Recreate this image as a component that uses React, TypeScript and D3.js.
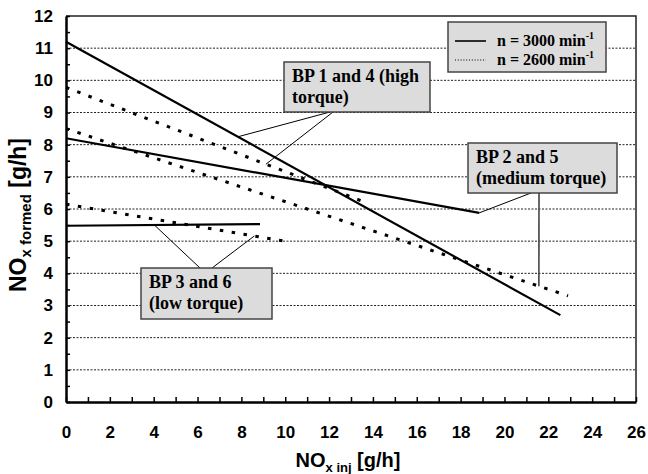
import React, { useRef, useEffect } from "react";
import * as d3 from "d3";

// axis ticks
const xTickValues = [0, 2, 4, 6, 8, 10, 12, 14, 16, 18, 20, 22, 24, 26];
const yTickValues = [0, 1, 2, 3, 4, 5, 6, 7, 8, 9, 10, 11, 12];

// linear trend lines, [NOx inj, NOx formed] at both ends
const highTorque3000 = [[0, 11.2], [22.55, 2.7]];
const highTorque2600 = [[0, 9.78], [13.6, 6.22]];
const mediumTorque3000 = [[0, 8.2], [18.85, 5.88]];
const mediumTorque2600 = [[0, 8.5], [22.9, 3.3]];
const lowTorque3000 = [[0, 5.48], [8.85, 5.53]];
const lowTorque2600 = [[0, 6.15], [10.25, 4.97]];

// where the leader lines touch the trend lines (NOx inj)
const leaderHigh = [7.84, 9.12];
const leaderMedium = [18.85, 21.57];
const leaderLow = [4.03, 8.59];

const SANS = "'Liberation Sans', Arial, sans-serif";
const SERIF = "'Liberation Serif', 'Times New Roman', serif";

export default function App() {
  const chartRef = useRef<SVGSVGElement>(null);

  useEffect(() => {
    const width = 648;
    const height = 474;
    const margin = { top: 16, right: 12, bottom: 72, left: 66 };

    const svg = d3.select(chartRef.current);
    svg.selectAll("*").remove();
    svg.attr("width", width).attr("height", height);

    svg.append("rect").attr("width", width).attr("height", height).attr("fill", "#fff");

    const x = d3.scaleLinear().domain([0, 26]).range([margin.left, width - margin.right]);
    const y = d3.scaleLinear().domain([0, 12]).range([height - margin.bottom, margin.top]);

    // dotted horizontal gridlines
    svg.append("g")
      .selectAll("line")
      .data(yTickValues.filter(d => d > 0 && d < 12))
      .join("line")
      .attr("x1", x(0))
      .attr("x2", x(26))
      .attr("y1", d => y(d))
      .attr("y2", d => y(d))
      .attr("stroke", "#222")
      .attr("stroke-width", 1)
      .attr("stroke-dasharray", "2,1.5");

    // top / right frame
    svg.append("path")
      .attr("d", `M${x(0)},${y(12)}H${x(26)}V${y(0)}`)
      .attr("fill", "none")
      .attr("stroke", "#222")
      .attr("stroke-width", 1.5);

    const series = [
      { pts: highTorque3000, dotted: false },
      { pts: highTorque2600, dotted: true },
      { pts: mediumTorque3000, dotted: false },
      { pts: mediumTorque2600, dotted: true },
      { pts: lowTorque3000, dotted: false },
      { pts: lowTorque2600, dotted: true },
    ];

    const line = d3.line<number[]>().x(d => x(d[0])).y(d => y(d[1]));

    svg.append("g")
      .selectAll("path")
      .data(series)
      .join("path")
      .attr("d", d => line(d.pts))
      .attr("fill", "none")
      .attr("stroke", "#000")
      .attr("stroke-width", d => (d.dotted ? 3 : 2.2))
      .attr("stroke-dasharray", d => (d.dotted ? "3.5,8.5" : null));

    const onLine = (pts: number[][], xv: number) => {
      const [a, b] = pts;
      return a[1] + ((b[1] - a[1]) * (xv - a[0])) / (b[0] - a[0]);
    };

    // leader lines
    const leaders = [
      { from: [330, 112], pts: highTorque3000, at: leaderHigh[0], color: "#000", w: 1 },
      { from: [333, 112], pts: highTorque2600, at: leaderHigh[1], color: "#000", w: 1 },
      { from: [531, 193], pts: mediumTorque3000, at: leaderMedium[0], color: "#000", w: 1 },
      { from: [539, 193], pts: mediumTorque2600, at: leaderMedium[1], color: "#444", w: 1.6 },
      { from: [200, 268], pts: lowTorque3000, at: leaderLow[0], color: "#000", w: 1 },
      { from: [212, 268], pts: lowTorque2600, at: leaderLow[1], color: "#000", w: 1 },
    ];
    svg.append("g")
      .selectAll("line")
      .data(leaders)
      .join("line")
      .attr("x1", d => d.from[0])
      .attr("y1", d => d.from[1])
      .attr("x2", d => x(d.at))
      .attr("y2", d => y(onLine(d.pts, d.at)))
      .attr("stroke", d => d.color)
      .attr("stroke-width", d => d.w);

    // label boxes
    const boxes = [
      { x: 284, y: 62, w: 146, h: 50, lines: ["BP 1 and 4 (high", "torque)"] },
      { x: 468, y: 143, w: 149, h: 50, lines: ["BP 2 and 5", "(medium torque)"] },
      { x: 141, y: 268, w: 131, h: 51, lines: ["BP 3 and 6", "(low torque)"] },
    ];
    const bg = svg.append("g").selectAll("g").data(boxes).join("g");
    bg.append("rect")
      .attr("x", d => d.x)
      .attr("y", d => d.y)
      .attr("width", d => d.w)
      .attr("height", d => d.h)
      .attr("fill", "#dcdcdc")
      .attr("stroke", "#444")
      .attr("stroke-width", 1.5);
    bg.each(function (d) {
      const g = d3.select(this);
      d.lines.forEach((t, i) => {
        g.append("text")
          .attr("x", d.x + 8)
          .attr("y", d.y + 20 + i * 21)
          .attr("font-family", SERIF)
          .attr("font-weight", "bold")
          .attr("font-size", 18)
          .text(t);
      });
    });

    // legend
    const lg = svg.append("g");
    lg.append("rect")
      .attr("x", 448).attr("y", 22).attr("width", 158).attr("height", 50)
      .attr("fill", "#dcdcdc").attr("stroke", "#444").attr("stroke-width", 1.5);
    const legendRows = [
      { label: "n = 3000 min", dotted: false },
      { label: "n = 2600 min", dotted: true },
    ];
    legendRows.forEach((r, i) => {
      const cy = 41 + i * 19;
      lg.append("line")
        .attr("x1", 455).attr("x2", 486).attr("y1", cy).attr("y2", cy)
        .attr("stroke", "#000")
        .attr("stroke-width", r.dotted ? 1.2 : 1.6)
        .attr("stroke-dasharray", r.dotted ? "1,1.8" : null);
      const t = lg.append("text")
        .attr("x", 497).attr("y", cy + 5)
        .attr("font-family", SERIF).attr("font-weight", "bold").attr("font-size", 16);
      t.append("tspan").text(r.label);
      t.append("tspan").attr("font-size", 10).attr("dy", -7).text("-1");
    });

    // axes
    const xAxis = svg.append("g")
      .attr("transform", `translate(0,${y(0)})`)
      .call(
        d3.axisBottom(x)
          .tickValues(d3.range(0, 27, 1))
          .tickSizeInner(-5)
          .tickSizeOuter(0)
          .tickPadding(24)
          .tickFormat(d => (xTickValues.includes(d as number) ? String(d) : ""))
      );
    const yAxis = svg.append("g")
      .attr("transform", `translate(${x(0)},0)`)
      .call(
        d3.axisLeft(y)
          .tickValues(d3.range(0, 12.01, 0.5))
          .tickSizeInner(-4)
          .tickSizeOuter(0)
          .tickPadding(13)
          .tickFormat(d => (yTickValues.includes(d as number) ? String(d) : ""))
      );
    [xAxis, yAxis].forEach(a => {
      a.select(".domain").attr("stroke", "#000").attr("stroke-width", 2.5);
      a.selectAll(".tick line").attr("stroke", "#000").attr("stroke-width", 1.5);
      a.selectAll("text")
        .attr("fill", "#000")
        .style("font-family", SANS)
        .style("font-weight", "bold")
        .style("font-size", "17px");
    });

    // axis titles
    const xt = svg.append("text")
      .attr("x", 348).attr("y", 467)
      .attr("text-anchor", "middle")
      .attr("font-family", SANS).attr("font-weight", "bold").attr("font-size", 20);
    xt.append("tspan").text("NO");
    xt.append("tspan").attr("font-size", 13).attr("dy", 5).text("x inj");
    xt.append("tspan").attr("dy", -5).text(" [g/h]");

    const yt = svg.append("text")
      .attr("transform", "translate(26,215) rotate(-90)")
      .attr("text-anchor", "middle")
      .attr("font-family", SANS).attr("font-weight", "bold").attr("font-size", 23);
    yt.append("tspan").text("NO");
    yt.append("tspan").attr("font-size", 15).attr("dy", 5).text("x formed");
    yt.append("tspan").attr("dy", -5).text(" [g/h]");
  }, []);

  return (
    <div>
      <svg ref={chartRef} style={{ position: "absolute", left: 0, top: 0 }}></svg>
    </div>
  );
}
